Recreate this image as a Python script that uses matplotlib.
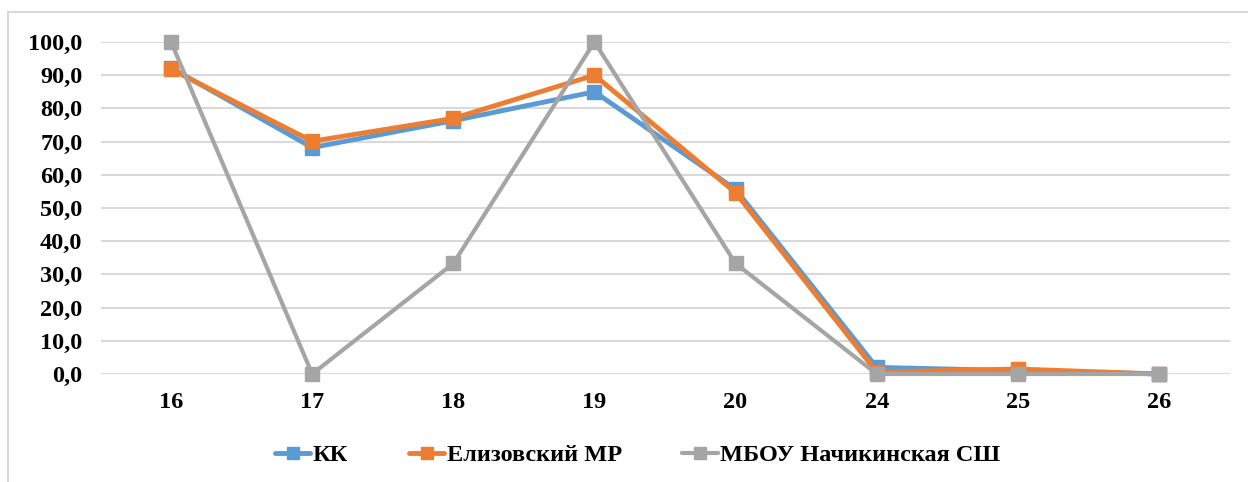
import matplotlib.pyplot as plt
from matplotlib.patches import Rectangle

categories = ['16', '17', '18', '19', '20', '24', '25', '26']
kk = [92.2, 68.2, 76.3, 85.0, 55.6, 2.0, 1.0, 0.0]
elizovo = [91.8, 70.1, 77.0, 90.0, 54.6, 0.6, 1.5, 0.0]
mbou = [100.0, 0.0, 33.3, 100.0, 33.3, 0.0, 0.0, 0.0]
labels = ['КК', 'Елизовский МР', 'МБОУ Начикинская СШ']
colors = ['#5B9BD5', '#ED7D31', '#A5A5A5']

plt.rcParams['font.family'] = ['Liberation Serif', 'DejaVu Serif']
plt.rcParams['font.weight'] = 'bold'

fig = plt.figure(figsize=(12.48, 4.82), dpi=100)
fig.patches.append(Rectangle((8 / 1248, -0.1), 1.2, (482 - 12) / 482 + 0.1,
                             transform=fig.transFigure, fill=False,
                             edgecolor='#d9d9d9', lw=1.5))
ax = fig.add_axes([100.5 / 1248, (482 - 374) / 482, 1129 / 1248, 332 / 482])

x = list(range(len(categories)))
for series, lab, col, lw in zip([kk, elizovo, mbou], labels, colors, [3.5, 3.5, 3.0]):
    ax.plot(x, series, color=col, lw=lw, marker='s', markersize=9.5,
            label=lab, solid_joinstyle='round', solid_capstyle='round')

ax.set_xlim(-0.5, len(categories) - 0.5)
ax.set_ylim(0, 100)
ax.set_yticks(range(0, 101, 10))
ax.set_yticklabels([f'{v},0' for v in range(0, 101, 10)])
ax.set_xticks(x)
ax.set_xticklabels(categories)
ax.tick_params(length=0, labelsize=17.5, pad=13)
ax.yaxis.grid(True, color='#d9d9d9', lw=1.5, zorder=0)
ax.set_axisbelow(True)
for s in ax.spines.values():
    s.set_visible(False)
for t in ax.get_xticklabels() + ax.get_yticklabels():
    t.set_fontweight('bold')
ax.patch.set_alpha(0)
for line in ax.lines:
    line.set_clip_on(False)

leg = fig.legend(loc='center', bbox_to_anchor=(0.511, (482 - 455) / 482), ncol=3,
                 frameon=False, fontsize=17.5, handlelength=1.45, handletextpad=0.1,
                 columnspacing=2.5, markerscale=0.9)
for t in leg.get_texts():
    t.set_fontweight('bold')

fig.savefig('out.png', dpi=100)
